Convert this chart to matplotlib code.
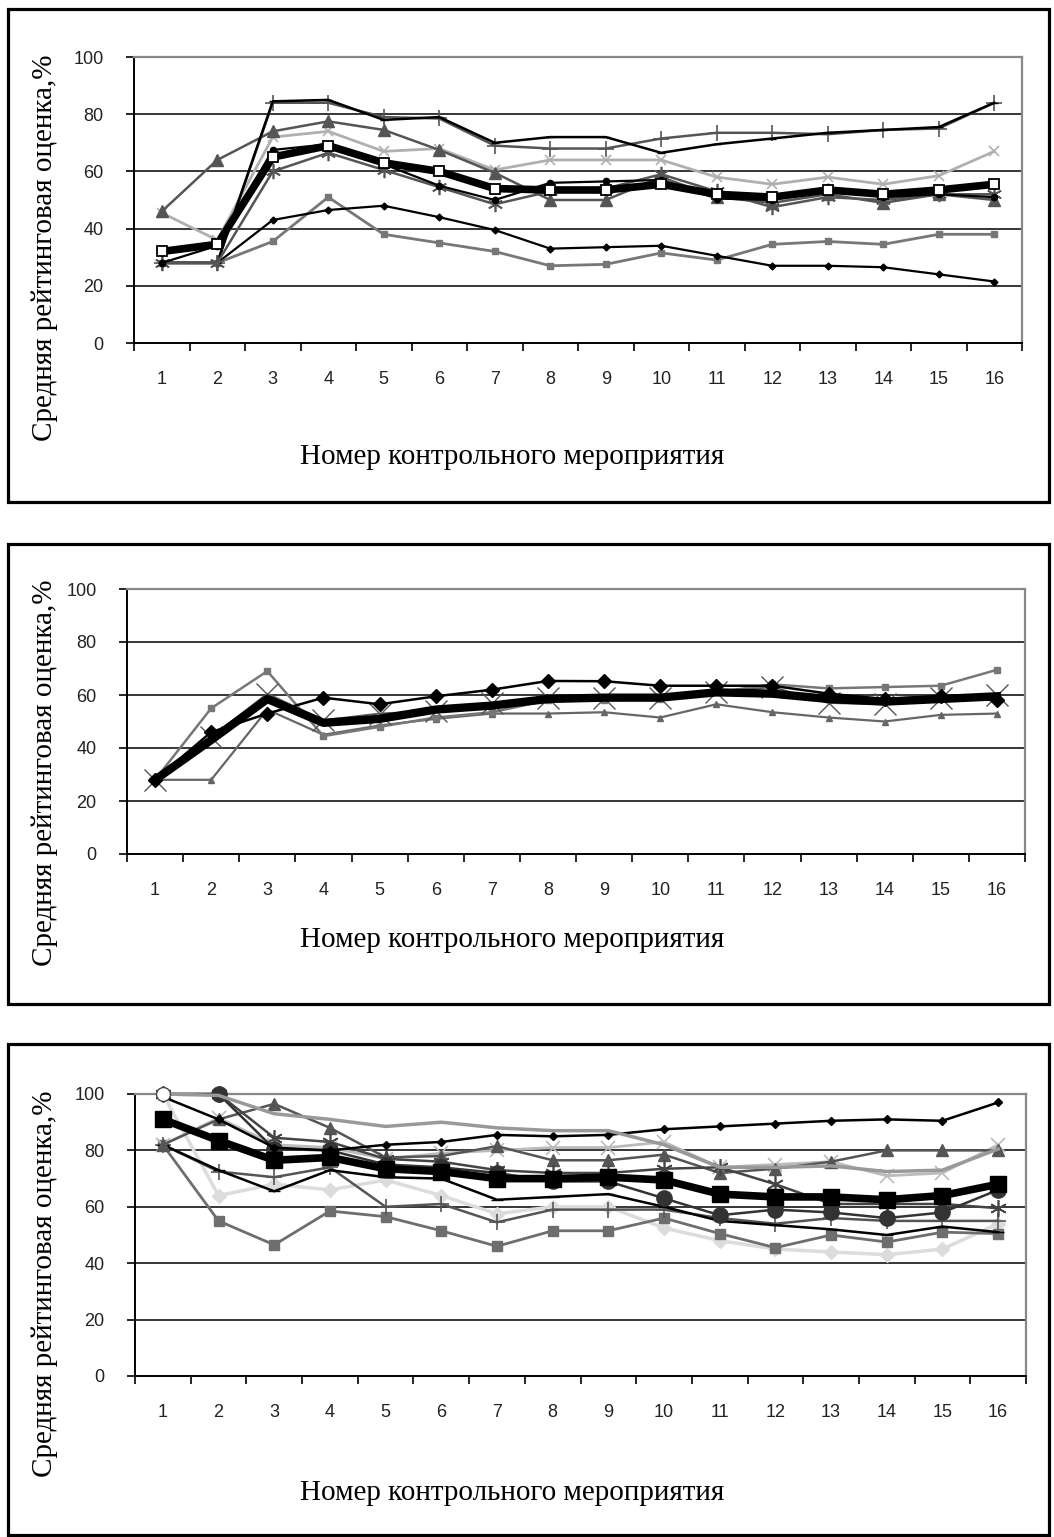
import matplotlib
matplotlib.use("Agg")
import matplotlib.pyplot as plt
from matplotlib.patches import Rectangle

# ---- data ----
events = list(range(1, 17))
y_ticks = [0, 20, 40, 60, 80, 100]

# panel 1
p1_mean = [32, 34.5, 65, 69, 63, 60, 54, 53.5, 53.5, 55.5, 52, 51, 53.5, 52, 53.5, 55.5]
p1_black_top = [28, 28, 84.5, 85, 78, 79, 70, 72, 72, 66.5, 69.5, 71.5, 73.5, 74.5, 75.5, 84]
p1_plus = [28, 28, 84, 84, 79, 78.5, 69, 68, 68, 71.5, 73.5, 73.5, 73, 74.5, 75, 84]
p1_triangle = [46, 64, 74, 77.5, 74.5, 67.5, 59.5, 50, 50, 58, 51, 49, 52, 49, 52, 50]
p1_light_x = [45.5, 36, 72, 74, 67, 68, 60.5, 64, 64, 64, 58, 55.5, 58, 55.5, 58.5, 67]
p1_dot = [28, 34, 67.5, 69.5, 62.5, 55, 50, 56, 56.5, 57, 50.5, 50, 54.5, 51, 52, 51]
p1_star = [28, 28, 60, 66.5, 60.5, 54.5, 48.5, 53, 54, 59, 53, 47.5, 51, 50, 52, 52]
p1_diamond_low = [28, 28, 43, 46.5, 48, 44, 39.5, 33, 33.5, 34, 30.5, 27, 27, 26.5, 24, 21.5]
p1_square_low = [28, 28, 35.5, 51, 38, 35, 32, 27, 27.5, 31.5, 29, 34.5, 35.5, 34.5, 38, 38]

# panel 2
p2_mean = [28, 43, 58.5, 49.5, 51, 54.5, 56, 58.5, 59, 59, 61, 60.5, 58.5, 57.5, 58.5, 59.5]
p2_diamond = [28, 46, 53, 59, 56.5, 59.5, 62, 65.3, 65.2, 63.5, 63.5, 63.5, 60.5, 58.5, 59.5, 58]
p2_square = [28, 55, 69, 44.5, 48, 51.5, 53.5, 58, 58, 58.5, 61, 64, 62.5, 63, 63.5, 69.5]
p2_low = [28, 28, 54.5, 45, 48.5, 51, 53, 53, 53.5, 51.5, 56.5, 53.5, 51.5, 50, 52.5, 53]
p2_cross = [28, 44, 60.5, 50.5, 53, 54, 57, 59, 59, 59, 61, 63, 57, 56.5, 59, 60]

# panel 3
p3_mean = [91, 83.5, 76.5, 77.5, 73.5, 72.5, 70, 70, 70.5, 69.5, 64.5, 63.5, 63.5, 62.5, 64, 68]
p3_diamond = [99, 91, 81, 80, 82, 83, 85.5, 85, 85.5, 87.5, 88.5, 89.5, 90.5, 91, 90.5, 97]
p3_gray_top = [100, 99.5, 93, 91, 88.5, 90, 88, 87, 87, 82, 74, 74, 74.5, 72.5, 73, 80.5]
p3_triangle = [82, 91, 96.5, 88, 77.5, 78, 81.5, 76.5, 76.5, 78.5, 72, 73.5, 76, 80, 80, 80]
p3_circle = [100, 100, 80.5, 80, 75, 74, 72, 69, 69, 63, 57, 59, 58, 56, 58, 66]
p3_star = [100, 100, 84.5, 83, 77, 76, 73, 72, 72, 73.5, 74, 68, 61, 61, 61, 59.5]
p3_light_x = [82, 91.5, 82, 81, 77, 79, 80, 81, 81, 83, 74, 75, 76, 71, 72, 82]
p3_dash = [82, 73, 65.5, 73, 70.5, 70, 62.5, 63.5, 64.5, 60, 55, 53.5, 52, 50, 53, 51]
p3_plus = [82, 72.5, 70.5, 74, 60, 61, 54.5, 59, 59, 59, 56, 54, 56, 55, 55, 55]
p3_square = [82, 55, 46.5, 58.5, 56.5, 51.5, 46, 51.5, 51.5, 56, 50.5, 45.5, 50, 47.5, 51, 50.5]
p3_pale = [100, 64, 68, 66, 69.5, 64, 57.5, 60, 60, 52.5, 48, 45, 44, 43, 45, 54]

x_title = "Номер контрольного мероприятия"
y_title = "Средняя рейтинговая оценка,%"

W, H = 1054, 1537
fig = plt.figure(figsize=(W / 100, H / 100), dpi=100)
fig.patch.set_facecolor("white")

STAR = (6, 2, 0)
AFTER_FIRST = list(range(1, 16))


def rect(l, t, r, b):
    return [l / W, 1 - b / H, (r - l) / W, (b - t) / H]


def frame(t, b):
    fig.patches.append(Rectangle((8 / W, 1 - b / H), (1049 - 8) / W, (b - t) / H,
                                 transform=fig.transFigure, fill=False,
                                 edgecolor="black", linewidth=2.3))


def setup(ax):
    ax.set_xlim(0.5, 16.5)
    ax.set_ylim(0, 100)
    ax.set_yticks(y_ticks)
    ax.set_xticks([i + 0.5 for i in range(0, 17)])
    ax.set_xticklabels([])
    ax.set_xticks(events, minor=True)
    ax.set_xticklabels([str(e) for e in events], minor=True)
    ax.tick_params(axis="x", which="major", length=6, width=1.2, direction="out")
    ax.tick_params(axis="x", which="minor", length=0, pad=20)
    ax.tick_params(axis="y", length=6, width=1.2, direction="out", pad=16)
    for lab in ax.get_xticklabels(minor=True) + ax.get_yticklabels():
        lab.set_fontfamily("Liberation Sans")
        lab.set_fontsize(13)
        lab.set_color("#222222")
    for y in [20, 40, 60, 80]:
        ax.axhline(y, color="black", linewidth=1.1, zorder=1)
    ax.spines["left"].set_color("black")
    ax.spines["bottom"].set_color("black")
    ax.spines["left"].set_linewidth(1.4)
    ax.spines["bottom"].set_linewidth(1.4)
    ax.spines["top"].set_color("#888888")
    ax.spines["right"].set_color("#888888")
    ax.spines["top"].set_linewidth(1.6)
    ax.spines["right"].set_linewidth(1.6)


def titles(xl_y, yl_y):
    fig.text(512 / W, 1 - xl_y / H, x_title, ha="center", va="center",
             fontsize=21, family="Liberation Serif")
    fig.text(45 / W, 1 - yl_y / H, y_title, ha="center", va="center",
             rotation=90, fontsize=21, family="Liberation Serif")


# ---------- panel 1 ----------
frame(9, 502)
ax1 = fig.add_axes(rect(134, 57, 1022, 343))
setup(ax1)
ax1.plot(events, p1_square_low, color="#777777", lw=2, marker="s", ms=5, zorder=3)
ax1.plot(events, p1_diamond_low, color="black", lw=1.6, marker="D", ms=3.5, zorder=3)
ax1.plot(events, p1_light_x, color="#b0b0b0", lw=2, marker="x", ms=7, mew=1.2, zorder=3)
ax1.plot(events, p1_triangle, color="#555555", lw=1.8, marker="^", ms=9, zorder=3)
ax1.plot(events, p1_plus, color="#555555", lw=1.8, marker="+", ms=11, mew=1.2, zorder=3)
ax1.plot(events, p1_black_top, color="black", lw=1.8, marker="_", ms=6, zorder=3)
ax1.plot(events, p1_star, color="#555555", lw=1.8, marker=STAR, ms=11, mew=1.2, zorder=3)
ax1.plot(events, p1_dot, color="black", lw=1.6, marker="o", ms=4.5, zorder=3)
ax1.plot(events, p1_mean, color="black", lw=5.5, marker="s", ms=7,
         mfc="white", mec="black", mew=1.3, zorder=5)
titles(457, 248)

# ---------- panel 2 ----------
frame(544, 1004)
ax2 = fig.add_axes(rect(127, 589, 1025, 854))
setup(ax2)
ax2.plot(events, p2_low, color="#666666", lw=1.6, marker="^", ms=4, zorder=3)
ax2.plot(events, p2_square, color="#777777", lw=1.8, marker="s", ms=5, zorder=3)
ax2.plot(events, p2_cross, color="#555555", lw=1.4, marker="x", ms=16, mew=1.0, zorder=3)
ax2.plot(events, p2_diamond, color="black", lw=1.8, marker="D", ms=7, zorder=3)
ax2.plot(events, p2_mean, color="black", lw=6, zorder=5)
titles(940, 773)

# ---------- panel 3 ----------
frame(1044, 1535)
ax3 = fig.add_axes(rect(135, 1094, 1026, 1376))
setup(ax3)
ax3.plot(events, p3_pale, color="#dcdcdc", lw=2.5, marker="D", ms=7, zorder=3)
ax3.plot(events, p3_square, color="#6e6e6e", lw=2, marker="s", ms=7, zorder=3)
ax3.plot(events, p3_plus, color="#555555", lw=1.8, marker="+", ms=11, mew=1.2, zorder=3)
ax3.plot(events, p3_dash, color="black", lw=1.8, marker="_", ms=8, zorder=3)
ax3.plot(events, p3_light_x, color="#bbbbbb", lw=2, marker="x", ms=10, mew=1.2, zorder=3)
ax3.plot(events, p3_triangle, color="#555555", lw=1.8, marker="^", ms=8, zorder=3)
ax3.plot(events, p3_star, color="#444444", lw=1.8, marker=STAR, ms=12, mew=1.2,
         zorder=3, clip_on=False)
ax3.plot(events, p3_circle, color="#333333", lw=1.8, marker="o", ms=11,
         markevery=AFTER_FIRST, zorder=3, clip_on=False)
ax3.plot(events, p3_diamond, color="black", lw=1.8, marker="D", ms=4,
         markevery=AFTER_FIRST, zorder=3)
ax3.plot(events, p3_gray_top, color="#999999", lw=2.5, marker="o", ms=10,
         mfc="white", mec="#444444", markevery=[0], zorder=4, clip_on=False)
ax3.plot(events, p3_mean, color="black", lw=5.5, marker="s", ms=12, zorder=5)
titles(1493, 1284)

fig.savefig("out.png", dpi=100)
